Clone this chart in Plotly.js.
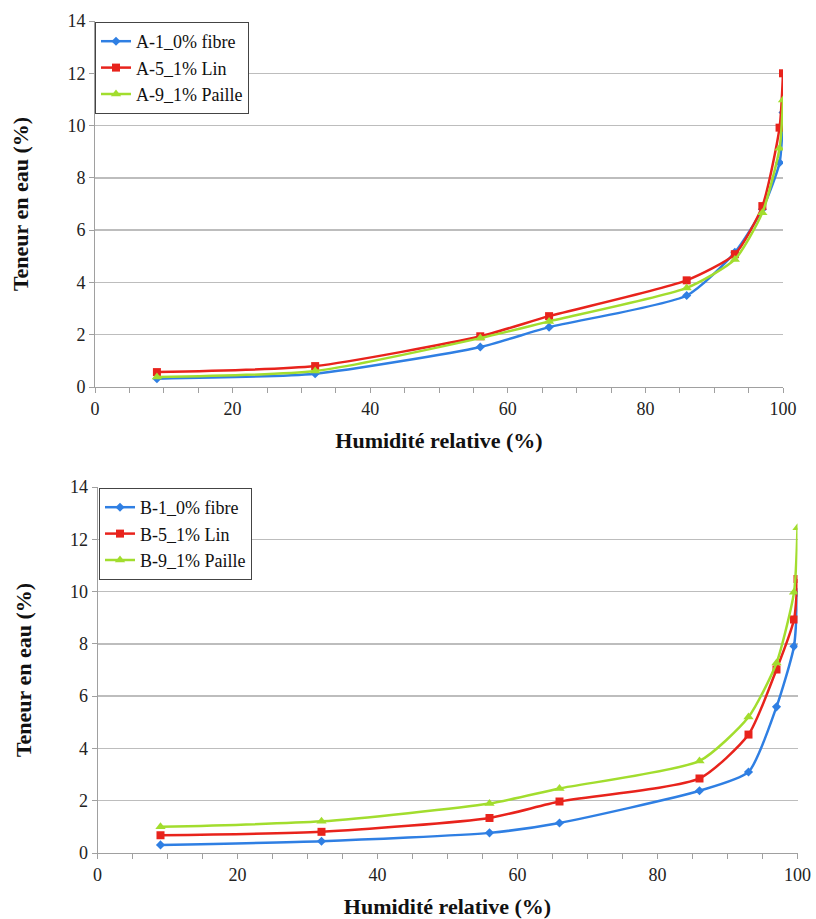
<!DOCTYPE html>
<html>
<head>
<meta charset="utf-8">
<script src="https://cdn.plot.ly/plotly-3.0.1.min.js"></script>
<style>html,body{margin:0;padding:0;background:#fff;}#chart{width:816px;height:919px;}</style>
</head>
<body>
<div id="chart"></div>
<script>
// Relative humidity (%)
const rh = [9, 32, 56, 66, 86, 93, 97, 99.5, 100];

// Top chart (A series) water content (%)
const a1 = [0.32, 0.51, 1.53, 2.29, 3.50, 5.15, 6.80, 8.58, 10.5];
const a5 = [0.57, 0.80, 1.94, 2.71, 4.08, 5.08, 6.92, 9.92, 12.0];
const a9 = [0.38, 0.61, 1.87, 2.51, 3.79, 4.88, 6.67, 9.13, 10.98];

// Bottom chart (B series) water content (%)
const b1 = [0.31, 0.45, 0.77, 1.15, 2.38, 3.10, 5.59, 7.91, 9.97];
const b5 = [0.68, 0.81, 1.34, 1.97, 2.85, 4.53, 7.02, 8.93, 10.48];
const b9 = [1.00, 1.21, 1.89, 2.47, 3.52, 5.20, 7.27, 9.97, 12.44];

const namesA = ['A-1_0% fibre', 'A-5_1% Lin', 'A-9_1% Paille'];
const namesB = ['B-1_0% fibre', 'B-5_1% Lin', 'B-9_1% Paille'];

const colors = ['#2f7fe3', '#e8231c', '#a2dd2e'];
const symbols = ['diamond', 'square', 'triangle-up'];
const msizes = [7, 8, 9];

function mk(x, y, i, name, xa, ya, leg) {
  return {
    x: x, y: y, name: name, type: 'scatter', mode: 'lines+markers',
    xaxis: xa, yaxis: ya, legend: leg,
    line: {color: colors[i], width: 2.5, shape: 'spline', smoothing: 0.6},
    marker: {color: colors[i], symbol: symbols[i], size: msizes[i]}
  };
}

const data = [
  mk(rh, a1, 0, namesA[0], 'x', 'y', 'legend'),
  mk(rh, a5, 1, namesA[1], 'x', 'y', 'legend'),
  mk(rh, a9, 2, namesA[2], 'x', 'y', 'legend'),
  mk(rh, b1, 0, namesB[0], 'x2', 'y2', 'legend2'),
  mk(rh, b5, 1, namesB[1], 'x2', 'y2', 'legend2'),
  mk(rh, b9, 2, namesB[2], 'x2', 'y2', 'legend2')
];

const W = 816, H = 919;
const serif = 'Liberation Serif';
const tickFont = {family: serif, size: 18, color: '#222'};
const titleFont = {family: serif, size: 22, color: '#111', weight: 'bold'};

function xax(domain, anchor) {
  return {
    domain: domain, anchor: anchor, range: [0, 100], dtick: 20, tick0: 0,
    showgrid: false, zeroline: false, showline: true, linecolor: '#a0a0a0', linewidth: 1,
    ticks: 'outside', ticklen: 5, tickcolor: '#a0a0a0', tickfont: tickFont,
    minor: {dtick: 5, ticks: 'outside', ticklen: 5, tickcolor: '#a0a0a0', showgrid: false},
    title: {text: '<b>Humidité relative (%)</b>', font: titleFont, standoff: 15},
    fixedrange: true
  };
}
function yax(domain, anchor) {
  return {
    domain: domain, anchor: anchor, range: [0, 14], dtick: 2, tick0: 0,
    showgrid: true, gridcolor: '#bdbdbd', gridwidth: 1.3, zeroline: false,
    showline: true, linecolor: '#a0a0a0', linewidth: 1,
    ticks: 'outside', ticklen: 5, tickcolor: '#a0a0a0', tickfont: tickFont,
    title: {text: '<b>Teneur en eau (%)</b>', font: titleFont, standoff: 32},
    fixedrange: true
  };
}
function legend(x, y) {
  return {
    x: x / W, y: 1 - y / H, xanchor: 'left', yanchor: 'top',
    bgcolor: '#ffffff', bordercolor: '#444', borderwidth: 1,
    font: {family: serif, size: 18, color: '#111'},
    tracegroupgap: 0, itemwidth: 30
  };
}

const layout = {
  width: W, height: H,
  margin: {l: 0, r: 0, t: 0, b: 0},
  paper_bgcolor: '#ffffff', plot_bgcolor: '#ffffff',
  showlegend: true,
  xaxis: xax([95 / W, 783 / W], 'y'),
  yaxis: yax([1 - 387 / H, 1 - 21 / H], 'x'),
  xaxis2: xax([97.5 / W, 797.5 / W], 'y2'),
  yaxis2: yax([1 - 853 / H, 1 - 487 / H], 'x2'),
  legend: legend(95, 22),
  legend2: legend(99, 488)
};

Plotly.newPlot('chart', data, layout, {displayModeBar: false, staticPlot: true});
</script>
</body>
</html>
